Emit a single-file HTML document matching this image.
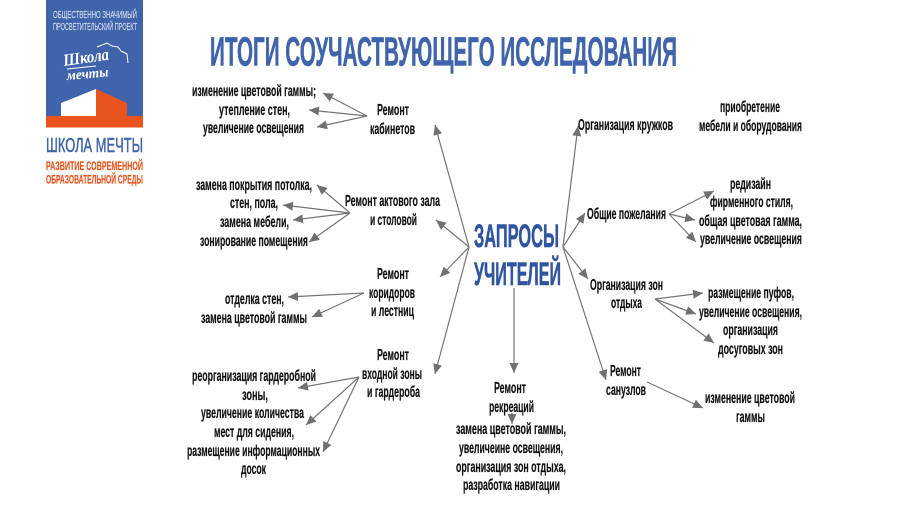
<!DOCTYPE html>
<html lang="ru">
<head>
<meta charset="utf-8">
<title>Итоги соучаствующего исследования</title>
<style>
html,body{margin:0;padding:0;background:#fff;width:900px;height:509px;overflow:hidden}
svg{display:block}
text{font-family:"Liberation Sans",sans-serif}
.t text{font-size:15.500px;font-weight:700;fill:#111;stroke:#111;stroke-width:.2}
.a line{stroke:#757575;stroke-width:1.2;marker-end:url(#ah)}
</style>
</head>
<body>
<svg width="900" height="509" viewBox="0 0 900 509" xmlns="http://www.w3.org/2000/svg">
<defs>
<marker id="ah" markerUnits="userSpaceOnUse" markerWidth="12" markerHeight="10" refX="10" refY="4.500" orient="auto">
<path d="M0,0 L10,4.500 L0,9 Z" fill="#707070"/>
</marker>
</defs>
<rect width="900" height="509" fill="#fff"/>

<!-- logo -->
<rect x="46" y="0" width="97" height="127.500" fill="#3f64ab"/>
<rect x="46" y="116" width="97" height="11.500" fill="#e9531d"/>
<polygon points="61,116 61,103 96,89 96,116" fill="#fff"/>
<polygon points="96,89 127,103 127,116 96,116" fill="#e9531d"/>
<g fill="#d5dcee" stroke="#d5dcee" stroke-width=".15" font-weight="400" font-size="10">
<text x="53" y="18" textLength="84" lengthAdjust="spacingAndGlyphs">ОБЩЕСТВЕННО ЗНАЧИМЫЙ</text>
<text x="53" y="30" textLength="84" lengthAdjust="spacingAndGlyphs">ПРОСВЕТИТЕЛЬСКИЙ ПРОЕКТ</text>
</g>
<polyline points="97,47 107,43 112,46 118,47 121,51 127,54 128,63" fill="none" stroke="#fff" stroke-width="1"/>
<text transform="translate(64,66) rotate(-8)" font-size="17" font-style="italic" font-weight="700" fill="#fff" textLength="46" lengthAdjust="spacingAndGlyphs" style="font-family:'Liberation Serif',serif">Школа</text>
<line x1="67" y1="69" x2="96" y2="66" stroke="#fff" stroke-width="1"/>
<text transform="translate(67,80) rotate(-5)" font-size="14" font-style="italic" font-weight="700" fill="#fff" textLength="42" lengthAdjust="spacingAndGlyphs" style="font-family:'Liberation Serif',serif">мечты</text>
<text x="46" y="152" font-size="20" fill="#3f64ab" stroke="#3f64ab" stroke-width=".5" textLength="97" lengthAdjust="spacingAndGlyphs">ШКОЛА МЕЧТЫ</text>
<g fill="#e9531d" stroke="#e9531d" stroke-width=".15" font-weight="700" font-size="12">
<text x="46" y="170" textLength="97" lengthAdjust="spacingAndGlyphs">РАЗВИТИЕ СОВРЕМЕННОЙ</text>
<text x="46" y="183.500" textLength="97" lengthAdjust="spacingAndGlyphs">ОБРАЗОВАТЕЛЬНОЙ СРЕДЫ</text>
</g>

<!-- title -->
<text x="210" y="65.500" font-size="41" font-weight="700" fill="#3f64ab" stroke="#3f64ab" stroke-width=".6" textLength="467" lengthAdjust="spacingAndGlyphs">ИТОГИ СОУЧАСТВУЮЩЕГО ИССЛЕДОВАНИЯ</text>

<!-- center -->
<g fill="#2f55a0" stroke="#2f55a0" stroke-width=".6" font-size="32" font-weight="700">
<text x="474" y="247" textLength="85" lengthAdjust="spacingAndGlyphs">ЗАПРОСЫ</text>
<text x="474" y="285" textLength="87" lengthAdjust="spacingAndGlyphs">УЧИТЕЛЕЙ</text>
</g>

<!-- arrows -->
<g class="a">
<line x1="469" y1="247" x2="435" y2="125"/>
<line x1="469" y1="247" x2="436" y2="220"/>
<line x1="469" y1="247" x2="440" y2="277"/>
<line x1="469" y1="247" x2="435" y2="374"/>
<line x1="563" y1="247" x2="578" y2="126"/>
<line x1="563" y1="247" x2="585" y2="213"/>
<line x1="563" y1="247" x2="588" y2="279"/>
<line x1="563" y1="247" x2="606" y2="380"/>
<line x1="514" y1="288" x2="514" y2="373"/>
<line x1="512" y1="413" x2="512" y2="424"/>
<line x1="367" y1="116" x2="323" y2="93"/>
<line x1="367" y1="116" x2="309" y2="110"/>
<line x1="367" y1="116" x2="317" y2="127"/>
<line x1="350" y1="213" x2="317" y2="185"/>
<line x1="350" y1="213" x2="283" y2="205"/>
<line x1="350" y1="213" x2="293" y2="220"/>
<line x1="350" y1="213" x2="309" y2="242"/>
<line x1="364" y1="293" x2="288" y2="297"/>
<line x1="364" y1="293" x2="312" y2="317"/>
<line x1="359" y1="377" x2="298" y2="388"/>
<line x1="359" y1="377" x2="306" y2="425"/>
<line x1="359" y1="377" x2="323" y2="452"/>
<line x1="669" y1="214" x2="714" y2="191"/>
<line x1="669" y1="214" x2="695" y2="220"/>
<line x1="669" y1="214" x2="696" y2="242"/>
<line x1="655" y1="299" x2="703" y2="293"/>
<line x1="655" y1="299" x2="696" y2="314"/>
<line x1="655" y1="299" x2="714" y2="343"/>
<line x1="647" y1="382" x2="703" y2="408"/>
</g>

<!-- labels -->
<g class="t">
<text x="192" y="96" textLength="124" lengthAdjust="spacingAndGlyphs">изменение цветовой гаммы;</text>
<text x="219" y="115" textLength="71" lengthAdjust="spacingAndGlyphs">утепление стен,</text>
<text x="203" y="133" textLength="101" lengthAdjust="spacingAndGlyphs">увеличение освещения</text>
<text x="377" y="115" textLength="32" lengthAdjust="spacingAndGlyphs">Ремонт</text>
<text x="370" y="134" textLength="45" lengthAdjust="spacingAndGlyphs">кабинетов</text>

<text x="196" y="190" textLength="116" lengthAdjust="spacingAndGlyphs">замена покрытия потолка,</text>
<text x="230" y="208" textLength="48" lengthAdjust="spacingAndGlyphs">стен, пола,</text>
<text x="220" y="227" textLength="69" lengthAdjust="spacingAndGlyphs">замена мебели,</text>
<text x="200" y="246" textLength="108" lengthAdjust="spacingAndGlyphs">зонирование помещения</text>
<text x="345" y="206" textLength="95" lengthAdjust="spacingAndGlyphs">Ремонт актового зала</text>
<text x="370" y="225" textLength="47" lengthAdjust="spacingAndGlyphs">и столовой</text>

<text x="377" y="279" textLength="32" lengthAdjust="spacingAndGlyphs">Ремонт</text>
<text x="369" y="298" textLength="46" lengthAdjust="spacingAndGlyphs">коридоров</text>
<text x="371" y="316" textLength="43" lengthAdjust="spacingAndGlyphs">и лестниц</text>
<text x="225" y="304" textLength="59" lengthAdjust="spacingAndGlyphs">отделка стен,</text>
<text x="201" y="323" textLength="106" lengthAdjust="spacingAndGlyphs">замена цветовой гаммы</text>

<text x="377" y="360" textLength="32" lengthAdjust="spacingAndGlyphs">Ремонт</text>
<text x="362" y="379" textLength="60" lengthAdjust="spacingAndGlyphs">входной зоны</text>
<text x="367" y="397" textLength="53" lengthAdjust="spacingAndGlyphs">и гардероба</text>
<text x="192" y="381" textLength="124" lengthAdjust="spacingAndGlyphs">реорганизация гардеробной</text>
<text x="242" y="400" textLength="26" lengthAdjust="spacingAndGlyphs">зоны,</text>
<text x="201" y="418" textLength="103" lengthAdjust="spacingAndGlyphs">увеличение количества</text>
<text x="214" y="437" textLength="80" lengthAdjust="spacingAndGlyphs">мест для сидения,</text>
<text x="187" y="456" textLength="133" lengthAdjust="spacingAndGlyphs">размещение информационных</text>
<text x="241" y="474" textLength="25" lengthAdjust="spacingAndGlyphs">досок</text>

<text x="578" y="130" textLength="95" lengthAdjust="spacingAndGlyphs">Организация кружков</text>
<text x="720" y="112" textLength="60" lengthAdjust="spacingAndGlyphs">приобретение</text>
<text x="699" y="131" textLength="103" lengthAdjust="spacingAndGlyphs">мебели и оборудования</text>

<text x="587" y="219" textLength="79" lengthAdjust="spacingAndGlyphs">Общие пожелания</text>
<text x="730" y="189" textLength="41" lengthAdjust="spacingAndGlyphs">редизайн</text>
<text x="710" y="207" textLength="83" lengthAdjust="spacingAndGlyphs">фирменного стиля,</text>
<text x="699" y="226" textLength="103" lengthAdjust="spacingAndGlyphs">общая цветовая гамма,</text>
<text x="700" y="244" textLength="102" lengthAdjust="spacingAndGlyphs">увеличение освещения</text>

<text x="590" y="290" textLength="73" lengthAdjust="spacingAndGlyphs">Организация зон</text>
<text x="611" y="308" textLength="31" lengthAdjust="spacingAndGlyphs">отдыха</text>
<text x="708" y="298" textLength="86" lengthAdjust="spacingAndGlyphs">размещение пуфов,</text>
<text x="699" y="317" textLength="103" lengthAdjust="spacingAndGlyphs">увеличение освещения,</text>
<text x="723" y="335" textLength="55" lengthAdjust="spacingAndGlyphs">организация</text>
<text x="718" y="354" textLength="65" lengthAdjust="spacingAndGlyphs">досуговых зон</text>

<text x="610" y="376" textLength="31" lengthAdjust="spacingAndGlyphs">Ремонт</text>
<text x="606" y="395" textLength="40" lengthAdjust="spacingAndGlyphs">санузлов</text>
<text x="705" y="403" textLength="90" lengthAdjust="spacingAndGlyphs">изменение цветовой</text>
<text x="736" y="422" textLength="29" lengthAdjust="spacingAndGlyphs">гаммы</text>

<text x="494" y="393" textLength="32" lengthAdjust="spacingAndGlyphs">Ремонт</text>
<text x="489" y="412" textLength="45" lengthAdjust="spacingAndGlyphs">рекреаций</text>
<text x="456" y="434" textLength="110" lengthAdjust="spacingAndGlyphs">замена цветовой гаммы,</text>
<text x="459" y="453" textLength="104" lengthAdjust="spacingAndGlyphs">увеличеине освещения,</text>
<text x="456" y="472" textLength="110" lengthAdjust="spacingAndGlyphs">организация зон отдыха,</text>
<text x="463" y="490" textLength="97" lengthAdjust="spacingAndGlyphs">разработка навигации</text>
</g>
</svg>
</body>
</html>
